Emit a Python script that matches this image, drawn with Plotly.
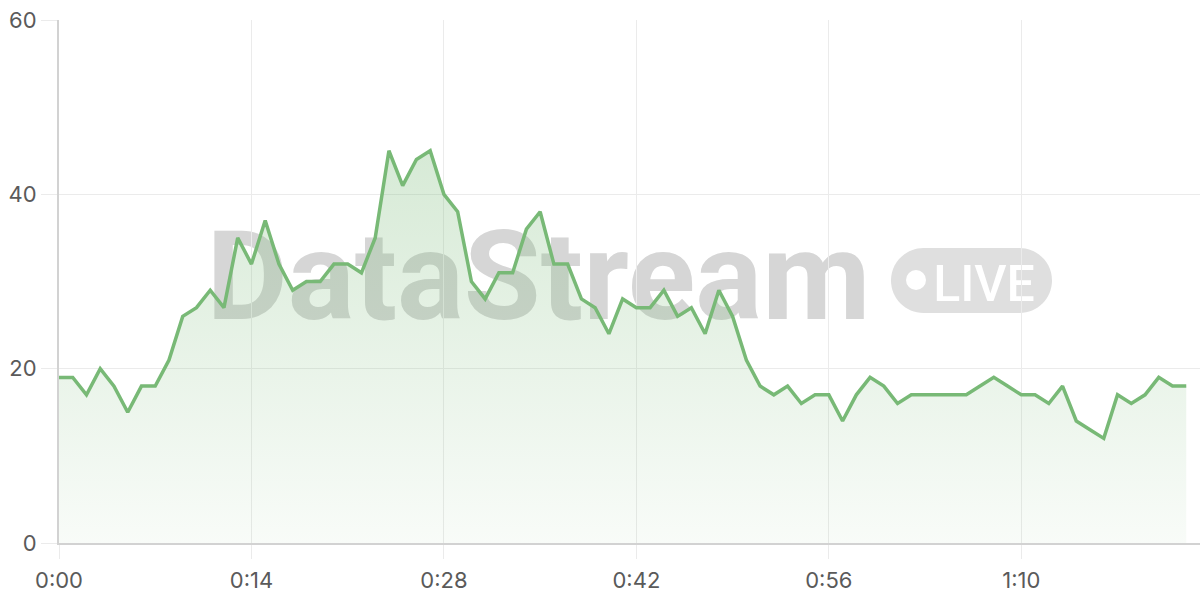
import plotly.graph_objects as go

# ---- data (seconds elapsed, value) ----
seconds = list(range(83))
values = [19, 19, 17, 20, 18, 15, 18, 18, 21, 26,
          27, 29, 27, 35, 32, 37, 32, 29, 30, 30,
          32, 32, 31, 35, 45, 41, 44, 45, 40, 38,
          30, 28, 31, 31, 36, 38, 32, 32, 28, 27,
          24, 28, 27, 27, 29, 26, 27, 24, 29, 26,
          21, 18, 17, 18, 16, 17, 17, 14, 17, 19,
          18, 16, 17, 17, 17, 17, 17, 18, 19, 18,
          17, 17, 16, 18, 14, 13, 12, 17, 16, 17,
          19, 18, 18]
x_tick_vals = [0, 14, 28, 42, 56, 70]
x_tick_text = ["0:00", "0:14", "0:28", "0:42", "0:56", "1:10"]
y_tick_vals = [0, 20, 40, 60]

LINE = "#78b976"
FONT = "Inter"
WM_FONT = "Roboto"

# plot-area geometry (pixels) used to place the watermark
W, H = 1200, 600
ML, MR, MT, MB = 59, 0, 20, 57
PW, PH = W - ML - MR, H - MT - MB


def px(xp):
    return (xp - ML) / PW


def py(yp):
    return (H - MB - yp) / PH


fig = go.Figure()
fig.add_trace(go.Scatter(
    x=seconds, y=values, mode="lines",
    line=dict(color=LINE, width=3.5),
    fill="tozeroy",
    fillgradient=dict(type="vertical", start=0, stop=45,
                      colorscale=[[0, "rgba(120,185,118,0.05)"],
                                  [1, "rgba(120,185,118,0.30)"]]),
    hoverinfo="skip", showlegend=False,
))

shapes = []
# "DataStream" watermark text
shapes.append(dict(
    type="rect", xref="paper", yref="paper", layer="below",
    x0=px(200), x1=px(877), y0=py(322), y1=py(212),
    line=dict(width=0), fillcolor="rgba(0,0,0,0)",
    label=dict(text="DataStream", textposition="middle center",
               font=dict(family=WM_FONT, size=125, color="#d6d6d6", weight=700)),
))
# LIVE pill
x0p, x1p, y0p, y1p = 891, 1052, 248, 313
r = (y1p - y0p) / 2
k = 0.5523 * r


def P(xx, yy):
    return f"{px(xx):.5f},{py(yy):.5f}"


path = (f"M{P(x0p + r, y0p)} L{P(x1p - r, y0p)} "
        f"C{P(x1p - r + k, y0p)} {P(x1p, y0p + r - k)} {P(x1p, y0p + r)} "
        f"C{P(x1p, y0p + r + k)} {P(x1p - r + k, y1p)} {P(x1p - r, y1p)} "
        f"L{P(x0p + r, y1p)} "
        f"C{P(x0p + r - k, y1p)} {P(x0p, y0p + r + k)} {P(x0p, y0p + r)} "
        f"C{P(x0p, y0p + r - k)} {P(x0p + r - k, y0p)} {P(x0p + r, y0p)} Z")
shapes.append(dict(type="path", xref="paper", yref="paper", layer="below",
                   path=path, fillcolor="#dfdfdf", line=dict(width=0)))
shapes.append(dict(type="circle", xref="paper", yref="paper", layer="below",
                   x0=px(906), x1=px(926), y0=py(290), y1=py(270),
                   fillcolor="#ffffff", line=dict(width=0)))
shapes.append(dict(
    type="rect", xref="paper", yref="paper", layer="below",
    x0=px(930), x1=px(1038), y0=py(310), y1=py(250),
    line=dict(width=0), fillcolor="rgba(0,0,0,0)",
    label=dict(text="LIVE", textposition="middle center",
               font=dict(family=WM_FONT, size=50, color="#ffffff", weight=500)),
))

fig.update_layout(
    width=W, height=H,
    margin=dict(l=ML, r=MR, t=MT, b=MB, pad=0),
    paper_bgcolor="#ffffff", plot_bgcolor="#ffffff",
    font=dict(family=FONT, size=22, color="#5a5a5a"),
    shapes=shapes,
)
fig.update_xaxes(
    range=[0, 83], tickvals=x_tick_vals, ticktext=x_tick_text,
    showgrid=True, gridcolor="#ebebeb", gridwidth=1,
    ticks="outside", ticklen=14, tickcolor="#ebebeb", tickwidth=1,
    ticklabelstandoff=3,
    showline=True, linecolor="#d2d2d2", linewidth=2,
    zeroline=False, fixedrange=True,
)
fig.update_yaxes(
    range=[0, 60], tickvals=y_tick_vals,
    showgrid=True, gridcolor="#ebebeb", gridwidth=1,
    ticks="outside", ticklen=16, tickcolor="#ebebeb", tickwidth=1,
    showline=True, linecolor="#d2d2d2", linewidth=2,
    zeroline=False, fixedrange=True,
)

fig.write_html(
    "out.html",
    config={"displayModeBar": False, "staticPlot": True},
    post_script="document.body.style.margin='0';document.body.style.overflow='hidden';",
)
